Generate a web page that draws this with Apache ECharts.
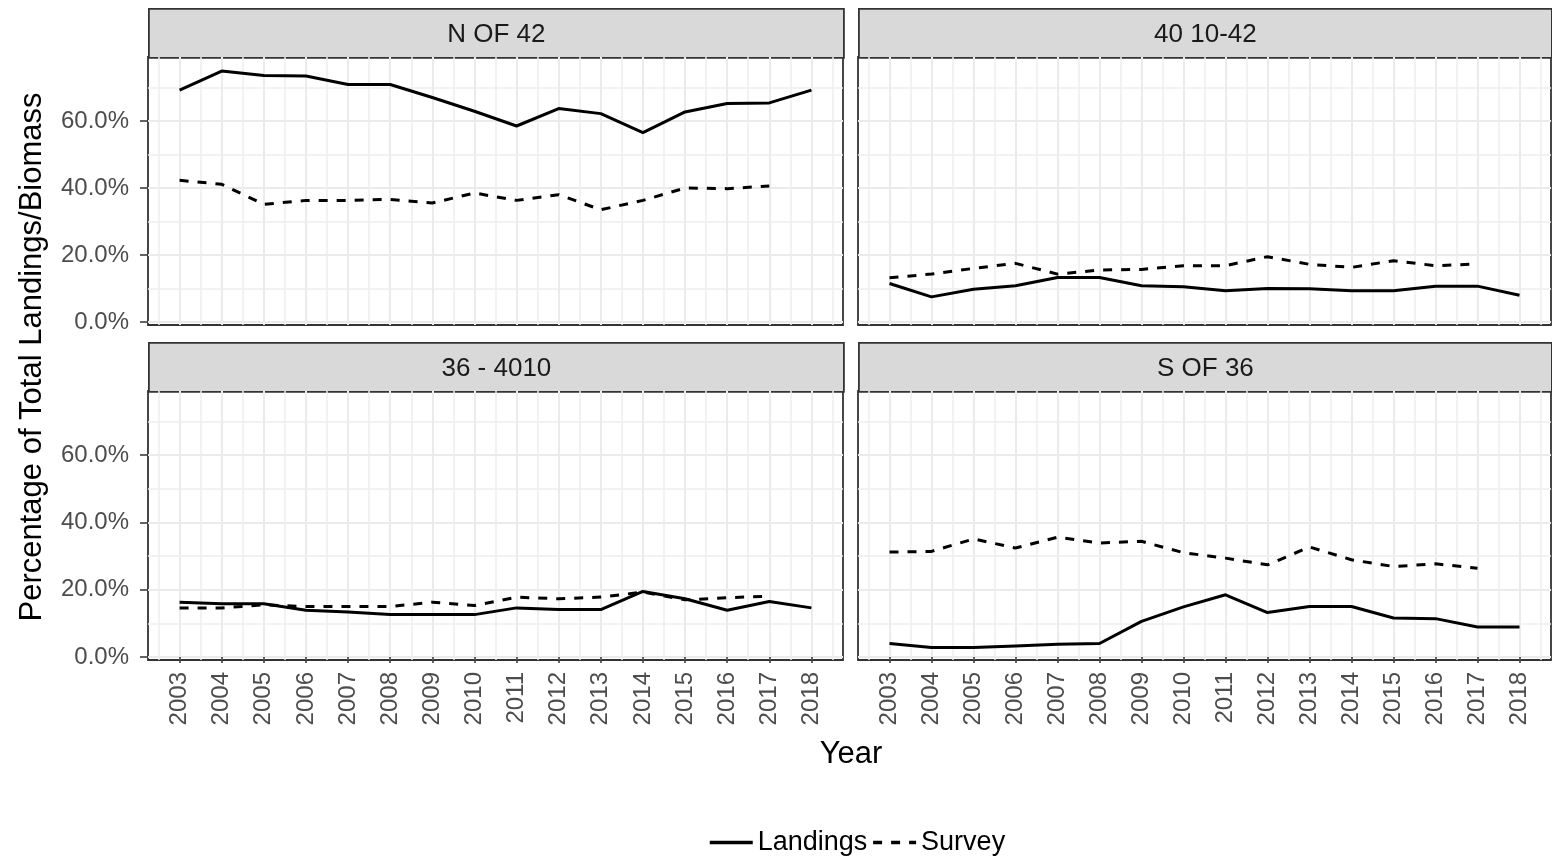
<!DOCTYPE html>
<html><head><meta charset="utf-8">
<script src="https://cdn.jsdelivr.net/npm/echarts@6/dist/echarts.min.js"></script>
<style>html,body{margin:0;padding:0;background:#fff}#c{width:1552px;height:857px}</style>
</head><body><div id="c"></div>
<script>
const years = [2003,2004,2005,2006,2007,2008,2009,2010,2011,2012,2013,2014,2015,2016,2017,2018];
const surveyYears = [2003,2004,2005,2006,2007,2008,2009,2010,2011,2012,2013,2014,2015,2016,2017];
const minorYears = [2002.5,2003.5,2004.5,2005.5,2006.5,2007.5,2008.5,2009.5,2010.5,2011.5,2012.5,2013.5,2014.5,2015.5,2016.5,2017.5,2018.5];
const panels = ['N OF 42','40 10-42','36 - 4010','S OF 36'];
const seriesNames = ['Landings','Survey'];

// percentages
const landingsN42 = [69.2,74.9,73.6,73.4,70.9,70.9,67.0,62.9,58.5,63.7,62.2,56.5,62.7,65.2,65.4,69.2];
const surveyN42   = [42.3,41.1,35.1,36.3,36.3,36.6,35.5,38.5,36.3,38.0,33.5,36.3,40.0,39.8,40.6];
const landings4010_42 = [11.5,7.5,9.8,10.8,13.3,13.3,10.8,10.5,9.3,10.0,9.9,9.3,9.3,10.7,10.7,8.0];
const survey4010_42   = [13.2,14.3,16.0,17.5,14.3,15.5,15.7,16.8,16.8,19.5,17.2,16.3,18.3,16.8,17.3];
const landings36_4010 = [16.3,15.8,15.8,13.9,13.4,12.6,12.6,12.6,14.6,14.1,14.1,19.5,17.3,13.9,16.5,14.6];
const survey36_4010   = [14.6,14.6,15.5,15.0,15.0,15.0,16.3,15.3,17.8,17.3,17.8,19.3,17.0,17.6,18.1];
const landingsS36 = [4.0,2.8,2.8,3.3,3.8,4.0,10.6,14.9,18.5,13.2,15.0,15.0,11.6,11.4,8.9,8.9];
const surveyS36   = [31.2,31.4,35.1,32.4,35.6,33.9,34.4,31.0,29.4,27.4,32.7,28.9,26.9,27.7,26.4];

const yTicks = [0,20,40,60];
const yMinorTicks = [10,30,50,70];
const yTickLabels = ['0.0%','20.0%','40.0%','60.0%'];
const xTickLabels = ['2003','2004','2005','2006','2007','2008','2009','2010','2011','2012','2013','2014','2015','2016','2017','2018'];

const landingsByPanel = [landingsN42, landings4010_42, landings36_4010, landingsS36];
const surveyByPanel = [surveyN42, survey4010_42, survey36_4010, surveyS36];

const FONT = 'Liberation Sans, Arial, sans-serif';
const X_MIN = 2002.25, X_MAX = 2018.75, Y_MIN = -0.9, Y_MAX = 79.1;
const gridPos = [
  {left:148, top:57, width:695, height:268},
  {left:858, top:57, width:693, height:268},
  {left:148, top:391, width:695, height:269},
  {left:858, top:391, width:693, height:269}
];
const STRIP_H = 49;

const grid = gridPos.map(g => Object.assign({}, g, {show:true, borderColor:'#333333', borderWidth:1.8, backgroundColor:'#ffffff', containLabel:false}));
const xAxis = [], yAxis = [], series = [], graphics = [];

gridPos.forEach((g, i) => {
  const bottomRow = i >= 2, leftCol = i % 2 === 0;
  xAxis.push({
    type:'value', gridIndex:i, min:X_MIN, max:X_MAX, position:'bottom',
    axisLine:{show:false},
    axisTick:{show:bottomRow, customValues:years, length:6, lineStyle:{color:'#333333', width:1.5}},
    axisLabel:{show:bottomRow, customValues:years, rotate:90, margin:12, fontSize:24, color:'#4D4D4D', fontFamily:FONT,
      formatter: v => xTickLabels[years.indexOf(Math.round(v))] || ''},
    splitLine:{show:true, lineStyle:{color:'#EBEBEB', width:2}}
  });
  xAxis.push({
    type:'value', gridIndex:i, min:X_MIN, max:X_MAX, position:'bottom',
    axisLine:{show:false}, axisLabel:{show:false},
    axisTick:{show:false, customValues:minorYears},
    splitLine:{show:true, lineStyle:{color:'#EEEEEE', width:1.5}}
  });
  yAxis.push({
    type:'value', gridIndex:i, min:Y_MIN, max:Y_MAX, position:'left',
    axisLine:{show:false},
    axisTick:{show:leftCol, customValues:yTicks, length:8, lineStyle:{color:'#333333', width:1.5}},
    axisLabel:{show:leftCol, customValues:yTicks, margin:19, fontSize:24, color:'#4D4D4D', fontFamily:FONT,
      formatter: v => yTickLabels[yTicks.indexOf(Math.round(v))] || ''},
    splitLine:{show:true, lineStyle:{color:'#EBEBEB', width:2}}
  });
  yAxis.push({
    type:'value', gridIndex:i, min:Y_MIN, max:Y_MAX, position:'left',
    axisLine:{show:false}, axisLabel:{show:false},
    axisTick:{show:false, customValues:yMinorTicks},
    splitLine:{show:true, lineStyle:{color:'#EEEEEE', width:1.5}}
  });
  series.push({
    name:seriesNames[0], type:'line', xAxisIndex:i*2, yAxisIndex:i*2, symbol:'none', silent:true,
    lineStyle:{color:'#000000', width:3, type:'solid'}, itemStyle:{color:'#000000'}, z:3,
    data: years.map((y, k) => [y, landingsByPanel[i][k]])
  });
  series.push({
    name:seriesNames[1], type:'line', xAxisIndex:i*2, yAxisIndex:i*2, symbol:'none', silent:true,
    lineStyle:{color:'#000000', width:3, type:[9,9]}, itemStyle:{color:'#000000'}, z:3,
    data: surveyYears.map((y, k) => [y, surveyByPanel[i][k]])
  });
  graphics.push({
    type:'group', left:g.left, top:g.top - STRIP_H, children:[
      {type:'rect', shape:{x:0, y:0, width:g.width, height:STRIP_H}, style:{fill:'#D9D9D9', stroke:'#333333', lineWidth:1.8}},
      {type:'text', x:g.width/2, y:STRIP_H/2 + 1, style:{text:panels[i], fontSize:26, fontFamily:FONT, fill:'#1A1A1A', textAlign:'center', textVerticalAlign:'middle'}}
    ]
  });
});

graphics.push({type:'text', x:851, y:754, style:{text:'Year', fontSize:31, fontFamily:FONT, fill:'#000000', textAlign:'center', textVerticalAlign:'middle'}});
graphics.push({type:'text', x:32, y:357, rotation:Math.PI/2, style:{text:'Percentage of Total Landings/Biomass', fontSize:31, fontFamily:FONT, fill:'#000000', textAlign:'center', textVerticalAlign:'middle'}});

const chart = echarts.init(document.getElementById('c'), null, {renderer:'canvas'});
chart.setOption({
  animation:false,
  backgroundColor:'#ffffff',
  grid, xAxis, yAxis, series,
  legend:{data:seriesNames, left:703, top:824, itemWidth:43, itemHeight:14, itemGap:4,
    itemStyle:{color:'transparent', borderColor:'transparent', borderWidth:0, opacity:0},
    lineStyle:{width:3.5},
    textStyle:{fontSize:27, fontFamily:FONT, color:'#000000'}},
  graphic: graphics
});
</script></body></html>
